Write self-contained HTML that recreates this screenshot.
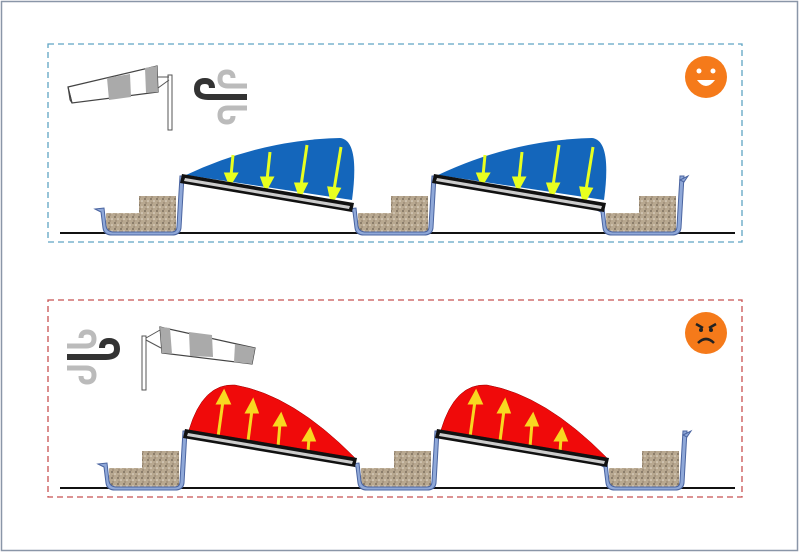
<!DOCTYPE html>
<html><head><style>body{margin:0;background:#fff}svg{display:block}</style></head><body>
<svg width="800" height="553" viewBox="0 0 800 553" xmlns="http://www.w3.org/2000/svg">
<defs>
<pattern id="gr" width="6" height="6" patternUnits="userSpaceOnUse">
<rect width="6" height="6" fill="#b8a890"/><circle cx="1" cy="1" r="0.9" fill="#6d5f50"/><circle cx="4" cy="3" r="0.8" fill="#e6ddd0"/><circle cx="2" cy="5" r="0.7" fill="#8a7866"/>
</pattern>
<g id="tray">
<rect x="106" y="213" width="70" height="19" fill="url(#gr)"/>
<rect x="139" y="196" width="37" height="17" fill="url(#gr)"/>
<path d="M95,209 L104,208 L106,226 Q107,232 114,232 L172,232 Q177,232 177,226 L180,176 L184,176 L181,228 Q180,235 172,235 L112,235 Q104,235 103,228 L101,212 Z" fill="#8fa8d8" stroke="#4a64a0" stroke-width="1"/>
</g>
<g id="panel">
<polygon points="182,174 354,203 352,212 180,183" fill="#111"/>
<polygon points="185,178 350,206 349,209 184,181" fill="#ccc"/>
</g>
<g id="wind" fill="none" stroke-linecap="butt">
<path d="M247,97 L208,97 Q197,97 197,89 Q197,81 205,81 Q212,81 212,88" stroke="#333" stroke-width="6"/>
<path d="M247,86 L228,86 Q220,86 220,79 Q220,72 227,72 Q233,72 233,78" stroke="#bbb" stroke-width="5"/>
<path d="M247,108 L228,108 Q220,108 220,115 Q220,122 227,122 Q233,122 233,116" stroke="#bbb" stroke-width="5"/>
</g>
</defs>
<rect x="1.5" y="1.5" width="796" height="549" fill="#fff" stroke="#8a96a8" stroke-width="1.5"/>
<rect x="48" y="44" width="694" height="198" fill="none" stroke="#5fa4c4" stroke-width="1.3" stroke-dasharray="6,4"/>
<rect x="48" y="300" width="694" height="197" fill="none" stroke="#c85050" stroke-width="1.3" stroke-dasharray="6,4"/>
<!-- top -->
<line x1="60" y1="233" x2="735" y2="233" stroke="#111" stroke-width="2"/>
<use href="#tray"/><use href="#tray" x="252"/><use href="#tray" x="500"/>
<path d="M680,180 L688,176 L684,182 Z" fill="#8fa8d8" stroke="#4a64a0"/>
<g id="bu">
<path d="M186,175 Q260,140 340,138 Q360,140 352,200 Z" fill="#1466bb"/>
<g stroke="#e8ff20" stroke-width="3" fill="#e8ff20">
<line x1="233" y1="155" x2="231" y2="176"/><polygon points="226,174 236,174 230,184"/>
<line x1="270" y1="152" x2="267" y2="180"/><polygon points="262,178 272,178 266,189"/>
<line x1="307" y1="145" x2="301" y2="186"/><polygon points="296,184 306,184 300,196"/>
<line x1="341" y1="147" x2="334" y2="190"/><polygon points="329,188 339,189 332,202"/>
</g>
</g>
<use href="#bu" x="252"/>
<use href="#panel"/><use href="#panel" x="252"/>
<!-- top windsock -->
<polygon points="157,66 158,92 72,103 68,87" fill="#fff" stroke="#444" stroke-width="1.2"/>
<polygon points="107,78 130,74 131,97 109,100" fill="#aaa"/>
<polygon points="145,68 157,66 158,92 146,93" fill="#aaa"/>
<polygon points="68,87 72,103 70,100" fill="#888" stroke="#444"/>
<rect x="168" y="75" width="4" height="55" fill="#fff" stroke="#555"/>
<line x1="158" y1="77" x2="169" y2="77" stroke="#555"/><line x1="158" y1="88" x2="169" y2="80" stroke="#555"/>
<use href="#wind"/>
<circle cx="706" cy="77" r="21" fill="#f57a1a"/>
<circle cx="699" cy="71" r="2.5" fill="#fff"/><circle cx="713" cy="71" r="2.5" fill="#fff"/>
<path d="M697,80 Q706,92 715,80 Z" fill="#fff"/>
<!-- bottom -->
<g transform="translate(3,255)">
<line x1="57" y1="233" x2="732" y2="233" stroke="#111" stroke-width="2"/>
<use href="#tray"/><use href="#tray" x="252"/><use href="#tray" x="500"/>
<path d="M680,180 L688,176 L684,182 Z" fill="#8fa8d8" stroke="#4a64a0"/>
<g id="ru">
<path d="M186,175 Q200,128 232,130 Q290,140 352,203 Z" fill="#f00a0a" stroke="#900" stroke-width="0.5"/>
<g stroke="#f8d820" stroke-width="3" fill="#f8d820">
<line x1="215" y1="182" x2="220" y2="146"/><polygon points="215,148 226,148 221,137"/>
<line x1="245" y1="186" x2="249" y2="155"/><polygon points="244,157 254,157 250,146"/>
<line x1="275" y1="192" x2="277" y2="168"/><polygon points="272,170 282,170 278,160"/>
<line x1="305" y1="197" x2="306" y2="183"/><polygon points="301,185 311,185 307,175"/>
</g>
</g>
<use href="#ru" x="252"/>
<use href="#panel"/><use href="#panel" x="252"/>
</g>
<!-- bottom windsock -->
<polygon points="160,327 162,353 252,364 255,348" fill="#fff" stroke="#444" stroke-width="1.2"/>
<polygon points="160,327 170,328 172,354 162,353" fill="#aaa"/>
<polygon points="189,332 212,335 213,357 190,356" fill="#aaa"/>
<polygon points="235,344 255,348 252,364 234,362" fill="#aaa"/>
<rect x="142" y="336" width="4" height="54" fill="#fff" stroke="#555"/>
<line x1="146" y1="338" x2="160" y2="330" stroke="#555"/><line x1="146" y1="340" x2="161" y2="348" stroke="#555"/>
<use href="#wind" transform="translate(314,260) scale(-1,1)"/>
<circle cx="706" cy="333" r="21" fill="#f57a1a"/>
<path d="M696,324 L703,328 M716,324 L709,328" stroke="#222" stroke-width="2.5"/>
<circle cx="701" cy="330" r="2" fill="#222"/><circle cx="711" cy="330" r="2" fill="#222"/>
<path d="M698,343 Q706,335 714,343" fill="none" stroke="#222" stroke-width="2.5"/>
</svg>
</body></html>
